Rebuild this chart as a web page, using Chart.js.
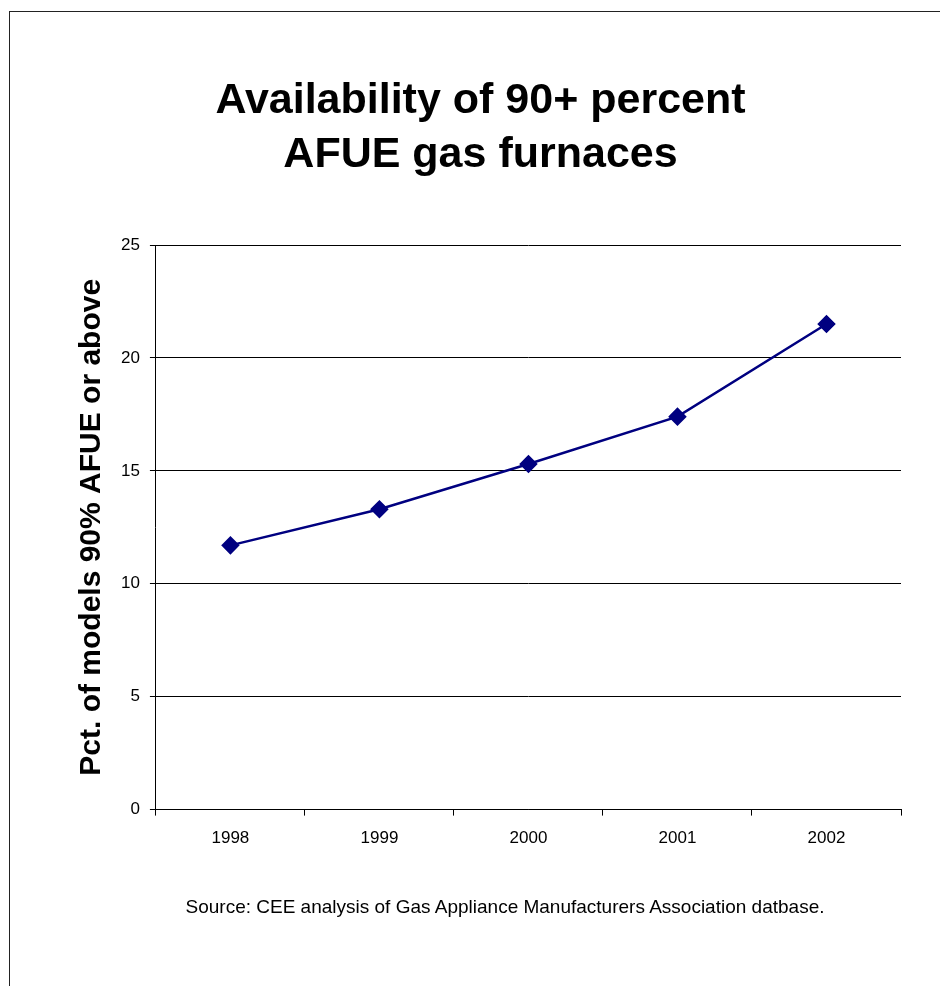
<!DOCTYPE html>
<html>
<head>
<meta charset="utf-8">
<script src="https://cdn.jsdelivr.net/npm/chart.js@4"></script>
<style>
  html, body { margin: 0; padding: 0; background: #fff; }
  body { font-family: "Liberation Sans", Arial, sans-serif; color: #000; }
  .frame {
    position: absolute; left: 9px; top: 11px; width: 940px; height: 980px;
    border-left: 1.5px solid #222; border-top: 1.5px solid #222;
  }
  .wrap { position: absolute; left: 0; top: 0; width: 940px; height: 986px; }
  .title {
    position: absolute; left: 0; top: 71px; width: 961px;
    text-align: center; font-size: 43px; font-weight: bold; line-height: 54px;
  }
  .source {
    position: absolute; left: 0; top: 896px; width: 1010px;
    text-align: center; font-size: 19px; line-height: 22px;
  }
</style>
</head>
<body>
<div class="frame"></div>
<div class="wrap"><canvas id="chart"></canvas></div>
<div class="title" id="title"></div>
<div class="source" id="source"></div>
<script>
const years = ['1998', '1999', '2000', '2001', '2002'];
const pctModels = [11.7, 13.3, 15.3, 17.4, 21.5];
const titleLines = ['Availability of 90+ percent', 'AFUE gas furnaces'];
const yAxisTitle = 'Pct. of models 90% AFUE or above';
const sourceNote = 'Source: CEE analysis of Gas Appliance Manufacturers Association datbase.';

const font = 'Liberation Sans, Arial, sans-serif';

document.getElementById('title').innerHTML = titleLines.join('<br>');
document.getElementById('source').textContent = sourceNote;

new Chart(document.getElementById('chart'), {
  type: 'line',
  data: {
    labels: years,
    datasets: [{
      data: pctModels,
      borderColor: '#000080',
      backgroundColor: '#000080',
      borderWidth: 2.5,
      pointStyle: 'rectRot',
      pointRadius: 7.5,
      pointHoverRadius: 7.5,
      tension: 0
    }]
  },
  options: {
    responsive: true,
    maintainAspectRatio: false,
    animation: false,
    layout: { padding: { top: 245, left: 74, right: 39, bottom: 124 } },
    plugins: {
      legend: { display: false },
      tooltip: { enabled: false }
    },
    scales: {
      x: {
        offset: true,
        grid: {
          offset: true,
          drawOnChartArea: false,
          color: '#000',
          tickLength: 6
        },
        border: { color: '#000', width: 1 },
        ticks: { color: '#000', font: { family: font, size: 17 }, padding: 13 }
      },
      y: {
        min: 0,
        max: 25,
        ticks: { stepSize: 5, color: '#000', font: { family: font, size: 17 }, padding: 10 },
        grid: { color: '#000', tickLength: 6 },
        border: { color: '#000', width: 1 },
        title: {
          display: true,
          text: yAxisTitle,
          color: '#000',
          font: { family: font, size: 30, weight: 'bold' },
          padding: { top: 0, bottom: 1 }
        }
      }
    }
  }
});
</script>
</body>
</html>
